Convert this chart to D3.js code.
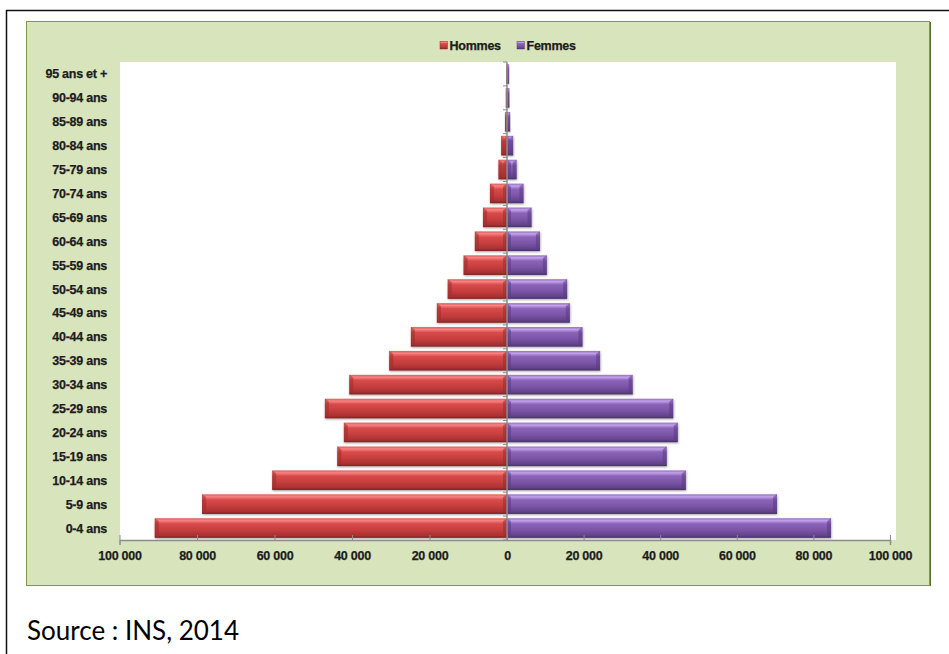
<!DOCTYPE html>
<html>
<head>
<meta charset="utf-8">
<script src="https://cdn.jsdelivr.net/npm/d3@7"></script>
<style>
  html, body { margin: 0; padding: 0; background: #ffffff; }
  svg { display: block; }
  .lbl { font-family: "Liberation Sans", Arial, sans-serif; font-weight: bold; font-size: 12.5px;
         letter-spacing: -0.25px; fill: #1c1c1c; stroke: #1c1c1c; stroke-width: 0.25px; }
  .src { font-family: Lato, "Open Sans", sans-serif; font-size: 26px; fill: #000; }
</style>
</head>
<body>
<script>
// Age groups, oldest at the top
const ages = ["95 ans et +","90-94 ans","85-89 ans","80-84 ans","75-79 ans","70-74 ans",
  "65-69 ans","60-64 ans","55-59 ans","50-54 ans","45-49 ans","40-44 ans","35-39 ans",
  "30-34 ans","25-29 ans","20-24 ans","15-19 ans","10-14 ans","5-9 ans","0-4 ans"];
// Population by sex
const hommes = [200, 300, 500, 1500, 2200, 4400, 6200, 8300, 11200, 15300, 18100,
  24800, 30400, 40700, 47000, 42100, 43800, 60600, 78700, 90900];
const femmes = [500, 600, 800, 1600, 2500, 4300, 6400, 8600, 10400, 15700, 16400,
  19700, 24300, 32800, 43400, 44600, 41700, 46700, 70500, 84600];
const seriesNames = ["Hommes", "Femmes"];
const xTicks = [-100000, -80000, -60000, -40000, -20000, 0, 20000, 40000, 60000, 80000, 100000];
const sourceText = "Source : INS, 2014";

const W = 949, H = 654;
const svg = d3.select("body").append("svg").attr("width", W).attr("height", H);
const defs = svg.append("defs");

// Outer frame
svg.append("rect").attr("x", 6.5).attr("y", 10.5).attr("width", 960).attr("height", 700)
  .attr("fill", "none").attr("stroke", "#111").attr("stroke-width", 1.5);

// Chart panel
svg.append("rect").attr("x", 928).attr("y", 22).attr("width", 3).attr("height", 564).attr("fill", "#5b7129");
svg.append("rect").attr("x", 26.5).attr("y", 21.5).attr("width", 903).attr("height", 564)
  .attr("fill", "#d8e4bc").attr("stroke", "#7f9a45").attr("stroke-width", 1);

// Plot area
const plot = { left: 120, right: 896, top: 62, bottom: 540 };
svg.append("rect").attr("x", plot.left).attr("y", plot.top)
  .attr("width", plot.right - plot.left).attr("height", plot.bottom - plot.top).attr("fill", "#fff");

const x = d3.scaleLinear().domain([-100000, 0, 100000]).range([119.5, 507, 890]);
const y = d3.scaleBand().domain(ages).range([plot.top, plot.bottom]).paddingInner(0.18).paddingOuter(0.09);

// Gradients for the bevelled bars
const palettes = {
  Hommes: { stops: [[0, "#e25a5a"], [0.12, "#f78383"], [0.28, "#d84a4a"], [0.6, "#c63e3e"], [0.88, "#aa3131"], [1, "#7a2222"]],
            side: "#9c2c2c" },
  Femmes: { stops: [[0, "#946bc2"], [0.12, "#c3a2ea"], [0.28, "#8b64b9"], [0.6, "#7b55a7"], [0.88, "#63438b"], [1, "#463066"]],
            side: "#5a3c80" }
};
seriesNames.forEach(n => {
  const g = defs.append("linearGradient").attr("id", "g-" + n)
    .attr("x1", 0).attr("y1", 0).attr("x2", 0).attr("y2", 1);
  palettes[n].stops.forEach(s => g.append("stop").attr("offset", s[0]).attr("stop-color", s[1]));
});
const shadow = defs.append("filter").attr("id", "shadow").attr("x", "-10%").attr("y", "-20%").attr("width", "130%").attr("height", "160%");
shadow.append("feDropShadow").attr("dx", 0.5).attr("dy", 1).attr("stdDeviation", 0.8).attr("flood-color", "#000").attr("flood-opacity", 0.35);

const rows = ages.map((a, i) => ({ age: a, h: hommes[i], f: femmes[i] }));

function drawBars(name, accessor, sign) {
  const g = svg.append("g");
  rows.forEach(r => {
    const v = accessor(r) * sign;
    const x0 = Math.min(x(0), x(v)), x1 = Math.max(x(0), x(v));
    const y0 = y(r.age), y1 = y0 + y.bandwidth();
    const bar = g.append("g").attr("filter", "url(#shadow)");
    bar.append("rect").attr("x", x0).attr("y", y0).attr("width", x1 - x0).attr("height", y1 - y0)
      .attr("fill", `url(#g-${name})`);
    const b = Math.min(4, (x1 - x0) / 2);
    // bevelled ends
    [[x0, x0 + b], [x1, x1 - b]].forEach(([e, i]) => {
      bar.append("polygon")
        .attr("points", `${e},${y0} ${i},${y0 + 3} ${i},${y1 - 3} ${e},${y1}`)
        .attr("fill", palettes[name].side).attr("opacity", 0.55);
    });
  });
}
drawBars("Hommes", r => r.h, -1);
drawBars("Femmes", r => r.f, 1);

// Vertical axis at zero with tick marks between age groups
const axisColor = "#8c8c8c";
svg.append("line").attr("x1", x(0)).attr("x2", x(0)).attr("y1", plot.top).attr("y2", plot.bottom)
  .attr("stroke", axisColor).attr("stroke-width", 1.5);
d3.range(ages.length + 1).forEach(i => {
  const yy = plot.top + i * (plot.bottom - plot.top) / ages.length;
  svg.append("line").attr("x1", x(0) - 4).attr("x2", x(0)).attr("y1", yy).attr("y2", yy)
    .attr("stroke", axisColor).attr("stroke-width", 1);
});

// Horizontal axis
const xAxis = d3.axisBottom(x).tickValues(xTicks).tickSizeOuter(0).tickSize(5)
  .tickFormat(d => d3.format(",")(Math.abs(d)).replace(/,/g, " "));
const gx = svg.append("g").attr("transform", `translate(0,${plot.bottom})`).call(xAxis);
gx.attr("font-family", null).attr("font-size", null);
gx.select(".domain").attr("stroke", axisColor).attr("stroke-width", 1.5);
gx.selectAll(".tick line").attr("stroke", axisColor).attr("stroke-width", 1).attr("y1", 0).attr("y2", 5);
gx.selectAll(".tick line").attr("transform", "translate(0,-5)");
gx.selectAll(".tick text").attr("class", "lbl").attr("dy", null).attr("y", 20);

// Age labels
svg.append("g").selectAll("text").data(ages).join("text")
  .attr("class", "lbl").attr("x", 107).attr("text-anchor", "end")
  .attr("y", d => y(d) + y.bandwidth() / 2 + 4.5).text(d => d);

// Legend
const legend = svg.append("g");
const legendPos = [440, 517];
seriesNames.forEach((n, i) => {
  legend.append("rect").attr("x", legendPos[i]).attr("y", 41.5).attr("width", 7.5).attr("height", 7.5)
    .attr("fill", `url(#g-${n})`).attr("stroke", palettes[n].side).attr("stroke-width", 0.5);
  legend.append("text").attr("class", "lbl").attr("x", legendPos[i] + 9.5).attr("y", 50).text(n);
});

// Source line
svg.append("text").attr("class", "src").attr("x", 27).attr("y", 640).text(sourceText);
</script>
</body>
</html>
